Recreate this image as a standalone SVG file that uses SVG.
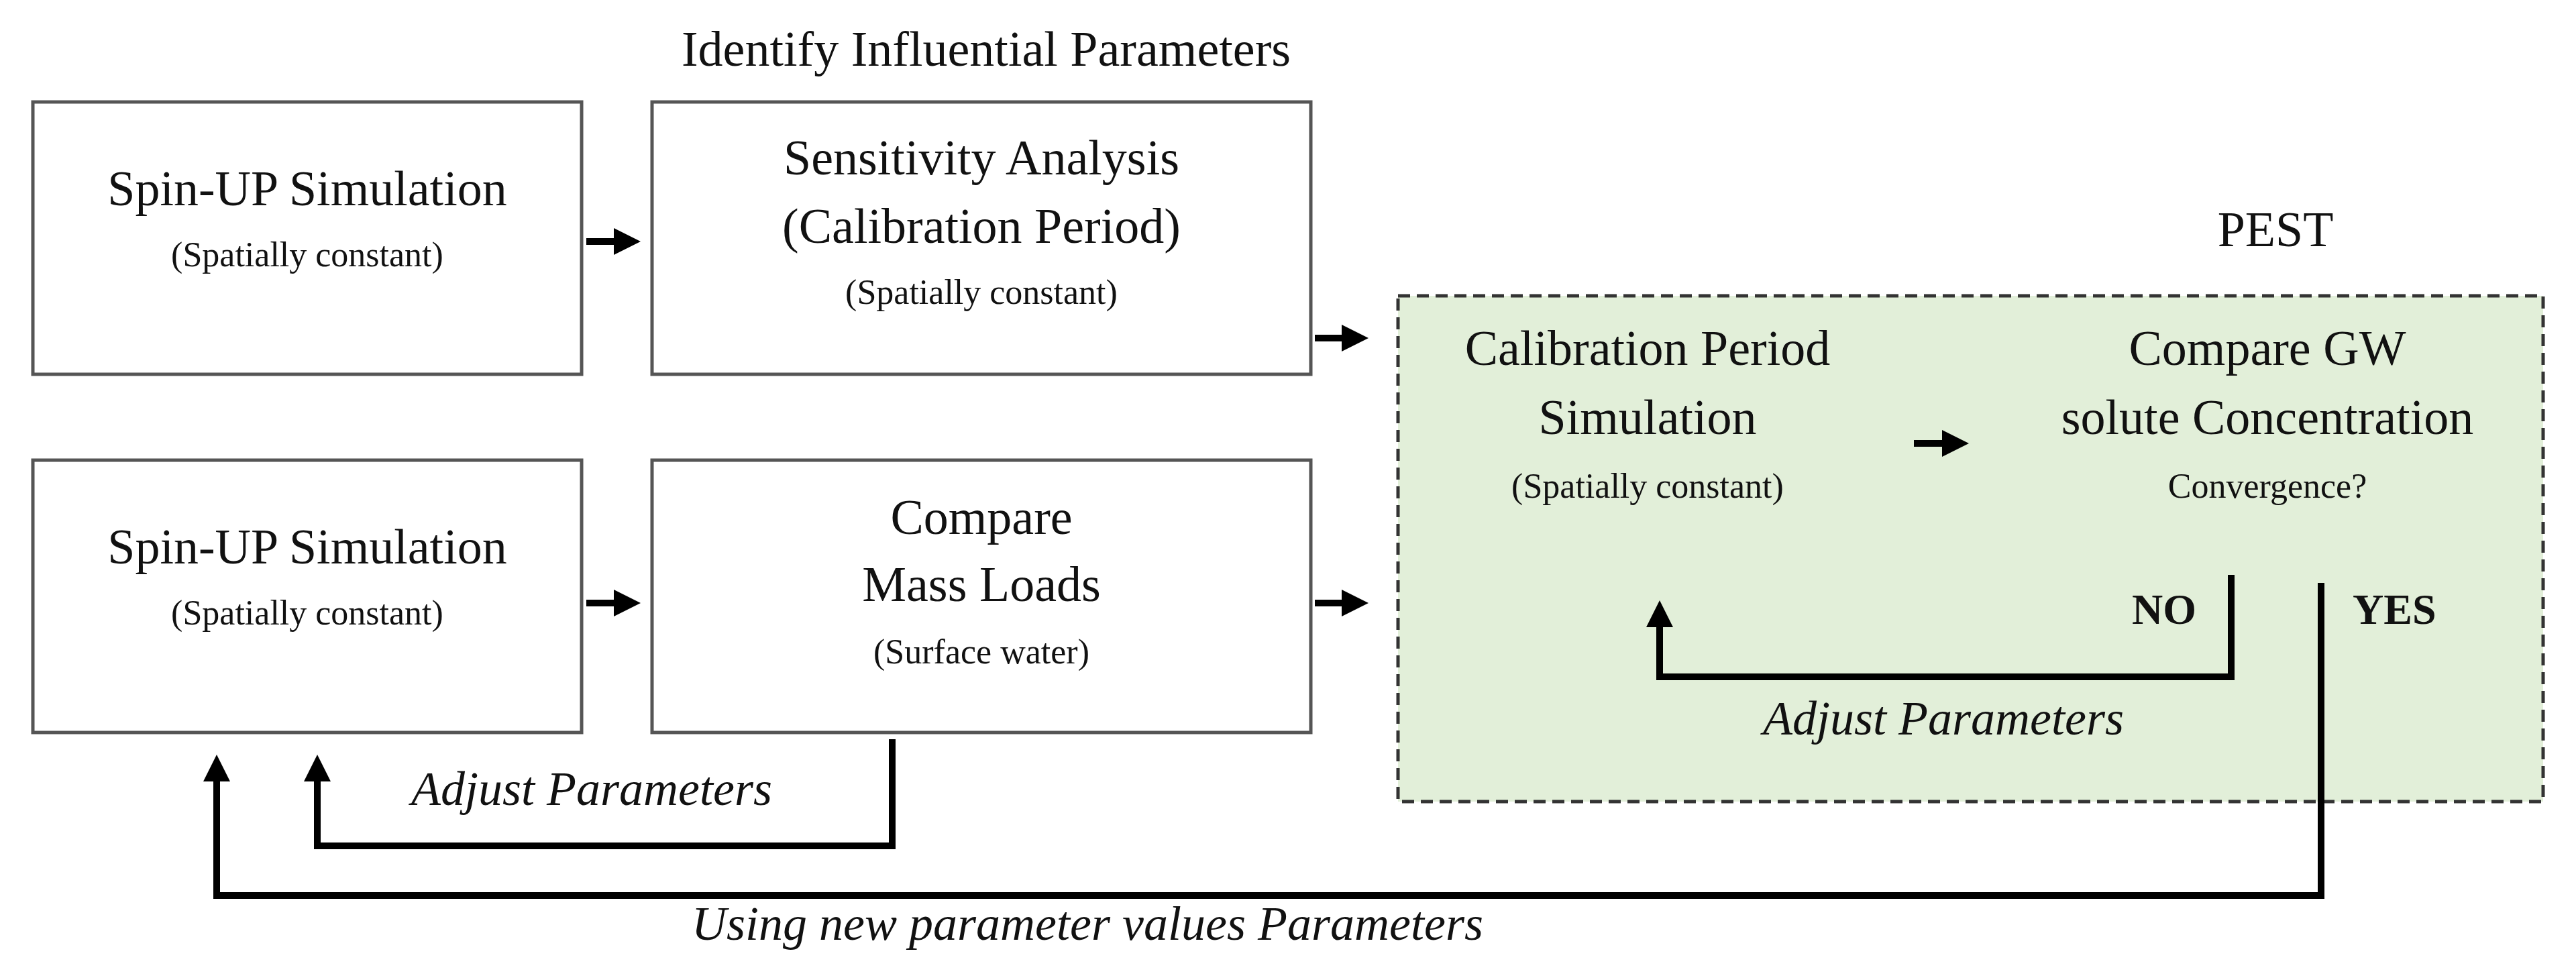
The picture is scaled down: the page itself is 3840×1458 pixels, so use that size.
<svg xmlns="http://www.w3.org/2000/svg" width="3840" height="1458" viewBox="0 0 3840 1458">
<style>
text{font-family:"Liberation Serif","Times New Roman",serif;fill:#111;text-anchor:middle}
.t{font-size:74px}.s{font-size:52px}.i{font-style:italic;font-size:72px}.b{font-weight:bold;font-size:64px}
.box{fill:#fff;stroke:#555;stroke-width:5}
.ln{fill:none;stroke:#000;stroke-width:10}
</style>
<defs><marker id="ah" markerWidth="4" markerHeight="4" refX="2" refY="2" orient="auto" markerUnits="strokeWidth"><path d="M0,0L4,2L0,4Z" fill="#000"/></marker></defs>
<rect width="3840" height="1458" fill="#fff"/>
<text class="t" x="1470" y="98">Identify Influential Parameters</text>
<text class="t" x="3392" y="367">PEST</text>
<g id="pest"><rect x="2084" y="441" width="1707" height="754" fill="#e2efd9" stroke="#333" stroke-width="5" stroke-dasharray="18,10"/></g>
<g id="n1"><rect class="box" x="49" y="152" width="818" height="406"/><text class="t" x="458" y="306">Spin-UP Simulation</text><text class="s" x="458" y="397">(Spatially constant)</text></g>
<g id="n2"><rect class="box" x="972" y="152" width="982" height="406"/><text class="t" x="1463" y="260">Sensitivity Analysis</text><text class="t" x="1463" y="362">(Calibration Period)</text><text class="s" x="1463" y="453">(Spatially constant)</text></g>
<g id="n3"><rect class="box" x="49" y="686" width="818" height="406"/><text class="t" x="458" y="840">Spin-UP Simulation</text><text class="s" x="458" y="931">(Spatially constant)</text></g>
<g id="n4"><rect class="box" x="972" y="686" width="982" height="406"/><text class="t" x="1463" y="796">Compare</text><text class="t" x="1463" y="896">Mass Loads</text><text class="s" x="1463" y="989">(Surface water)</text></g>
<g id="n5"><text class="t" x="2456" y="544">Calibration Period</text><text class="t" x="2456" y="647">Simulation</text><text class="s" x="2456" y="742">(Spatially constant)</text></g>
<g id="n6"><text class="t" x="3380" y="544">Compare GW</text><text class="t" x="3380" y="647">solute Concentration</text><text class="s" x="3380" y="742">Convergence?</text></g>
<g id="connectors">
<path class="ln" d="M874,360H935" marker-end="url(#ah)"/>
<path class="ln" d="M874,899H935" marker-end="url(#ah)"/>
<path class="ln" d="M1960,504H2020" marker-end="url(#ah)"/>
<path class="ln" d="M1960,899H2020" marker-end="url(#ah)"/>
<path class="ln" d="M2853,661H2915" marker-end="url(#ah)"/>
<path class="ln" d="M3326,857V1009H2474V915" marker-end="url(#ah)"/>
<path class="ln" d="M3460,869V1335H323V1145" marker-end="url(#ah)"/>
<path class="ln" d="M1330,1102V1261H473V1145" marker-end="url(#ah)"/>
</g>
<text class="b" x="3274" y="930" style="text-anchor:end">NO</text>
<text class="b" x="3507" y="930" style="text-anchor:start">YES</text>
<text class="i" x="2897" y="1095">Adjust Parameters</text>
<text class="i" x="882" y="1200">Adjust Parameters</text>
<text class="i" x="1621" y="1401">Using new parameter values Parameters</text>
</svg>
